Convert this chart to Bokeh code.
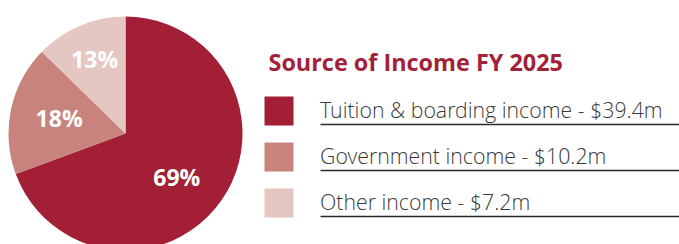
import numpy as np
from bokeh.plotting import figure
from bokeh.models import Range1d, ColumnDataSource
from bokeh.core.properties import value
from bokeh.embed import file_html
from bokeh.resources import INLINE

# ---- data ----
categories = ["Tuition & boarding income", "Government income", "Other income"]
amounts_m = [39.4, 10.2, 7.2]
pct_labels = ["69%", "18%", "13%"]
title_text = "Source of Income FY 2025"

# ---- style ----
colors = ["#A21F36", "#C8847C", "#E5C7C1"]
title_color = "#A3213A"
text_color = "#3A3A3A"
FONT = "Open Sans"
LIGHT = "Open Sans Light, Open Sans"

W, H = 679, 244
p = figure(width=W, height=H, output_backend="svg", toolbar_location=None,
           x_range=Range1d(0, W), y_range=Range1d(0, H),
           x_axis_location=None, y_axis_location=None,
           min_border=0, outline_line_color=None)
p.grid.visible = False
p.background_fill_color = "white"
p.border_fill_color = "white"

# pie geometry (clockwise from 12 o'clock)
cx, cy, r = 125, 111, 117
vals = np.array(amounts_m)
frac = vals / vals.sum()
cum = np.concatenate([[0], np.cumsum(frac)])
start = np.pi / 2 - cum[1:] * 2 * np.pi
end = np.pi / 2 - cum[:-1] * 2 * np.pi
src = ColumnDataSource(dict(start=start, end=end, color=colors))
p.wedge(x=cx, y=cy, radius=r, start_angle="start", end_angle="end",
        fill_color="color", line_color=None, source=src)

# percentage labels
mid = (start + end) / 2
nudge = np.radians([-6, 0, 0])
rfrac = [0.58, 0.58, 0.68]
lx = cx + np.array(rfrac) * r * np.cos(mid + nudge)
ly = cy + np.array(rfrac) * r * np.sin(mid + nudge)
p.text(x=lx, y=ly + 1, text=pct_labels, text_color="white",
       text_font=value(FONT), text_font_style="bold", text_font_size="23px",
       text_align="center", text_baseline="middle")

# title
p.text(x=[268], y=[183], text=[title_text], text_color=title_color,
       text_font=value(FONT), text_font_style="bold", text_font_size="23.4px",
       text_align="left", text_baseline="middle")

# legend
n = len(categories)
idx = np.arange(n)
sq_cy = 133.5 - idx * 46
labels = [f"{c} - ${a}m" for c, a in zip(categories, amounts_m)]
p.rect(x=278.5, y=sq_cy, width=29, height=29, fill_color=colors, line_color=None)
p.text(x=[319.5] * n, y=sq_cy + 2, text=labels, text_color=text_color,
       text_font=value(LIGHT), text_font_size="21.3px",
       text_align="left", text_baseline="middle")
for yy in sq_cy - 13.5:
    p.line(x=[320, W], y=[yy, yy], line_color="#2A2A2A", line_width=1.5)

open("out.html", "w").write(file_html(p, INLINE))
